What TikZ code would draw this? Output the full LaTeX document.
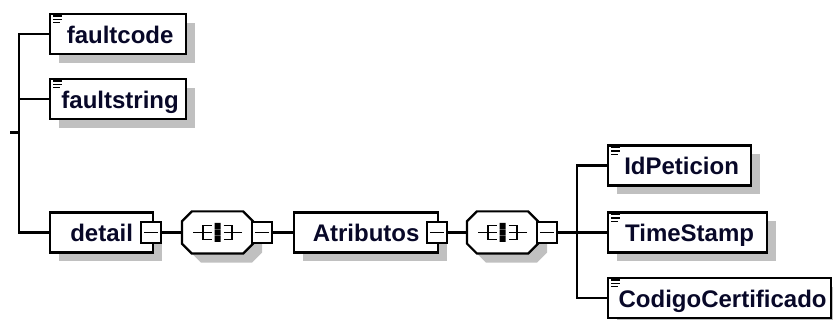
\documentclass[tikz,border=0pt]{standalone}
\usepackage{fontspec}
\setmainfont{Liberation Sans}
\usetikzlibrary{calc,shadows}
\definecolor{txt}{RGB}{8,8,40}
\definecolor{shade}{RGB}{192,192,192}
\newcommand\elemfont{\fontsize{24}{27}\selectfont\bfseries}
\begin{document}
\begin{tikzpicture}[x=1pt,y=-1pt,line width=2.2pt,
  shade9/.style={drop shadow={shadow xshift=9pt,shadow yshift=-9pt,fill=shade,opacity=1}},
  elem/.style={draw,fill=white,shade9,minimum height=40pt,inner sep=0pt,anchor=west,
    text height=19pt,text depth=0pt,font=\elemfont,text=txt},
  minus/.style={draw,fill=white,minimum width=20pt,minimum height=21pt,inner sep=0pt},
  seq/.style={minimum width=69pt,minimum height=40pt,inner sep=0pt}]
\useasboundingbox (0,0) rectangle (833,320);

\node[elem,minimum width=136pt] (faultcode) at (49,34) {\hspace{4pt}faultcode};
\node[elem,minimum width=136pt] (faultstring) at (49,99) {\hspace{4pt}faultstring};
\node[elem,minimum width=103pt] (detail) at (49,232.5) {detail\hspace{8pt}};

\node[seq] (seqA) at (217.5,232.5) {};

\node[elem,minimum width=144pt] (atrib) at (293,232.5) {Atributos};

\node[seq] (seqB) at (502.5,232.5) {};

\node[elem,minimum width=143pt] (idpet) at (607,165.5) {\hspace{4pt}IdPeticion};
\node[elem,minimum width=159pt] (timest) at (607,232.5) {\hspace{4pt}TimeStamp};
\node[elem,minimum width=223pt] (codigo) at (607,298) {\hspace{6pt}CodigoCertificado};

% sequence octagons
\foreach \s in {seqA,seqB}{
  \draw[fill=white,shade9] ([xshift=10pt]\s.north west) -- ([xshift=-10pt]\s.north east)
    -- ([yshift=-10pt]\s.north east) -- ([yshift=10pt]\s.south east)
    -- ([xshift=-10pt]\s.south east) -- ([xshift=10pt]\s.south west)
    -- ([yshift=10pt]\s.south west) -- ([yshift=-10pt]\s.north west) -- cycle;
  \draw[line width=1.5pt] ($(\s)+(-24.5,0)$) -- ($(\s)+(-6,0)$)
    ($(\s)+(-6,-7)$) -- ($(\s)+(-14.5,-7)$) -- ($(\s)+(-14.5,7)$) -- ($(\s)+(-6,7)$);
  \draw[line width=1.5pt] ($(\s)+(24.5,0)$) -- ($(\s)+(6,0)$)
    ($(\s)+(6,-7)$) -- ($(\s)+(14.5,-7)$) -- ($(\s)+(14.5,7)$) -- ($(\s)+(6,7)$);
  \fill ($(\s)+(-3,-9.5)$) rectangle ($(\s)+(3,-3.5)$)
        ($(\s)+(-3,-3)$) rectangle ($(\s)+(3,3)$)
        ($(\s)+(-3,3.5)$) rectangle ($(\s)+(3,9.5)$);
}

% minus boxes
\node[minus] (detailM) at (151,232.5) {};
\node[minus] (seqAM) at (262,232.5) {};
\node[minus] (atribM) at (437,232.5) {};
\node[minus] (seqBM) at (547,232.5) {};
\foreach \m in {detailM,seqAM,atribM,seqBM}
  \draw[line width=1.5pt] ([xshift=4pt]\m.west) -- ([xshift=-4pt]\m.east);

% element marks
\foreach \n in {faultcode,faultstring,idpet,timest,codigo}{
  \draw[line width=1.3pt] ($(\n.north west)+(4,3.2)$) -- ++(9,0)
    ($(\n.north west)+(4,6.5)$) -- ++(9,0)
    ($(\n.north west)+(4,9.8)$) -- ++(7,0);
}

\coordinate (root) at (10,132.5);
\coordinate (trunkA) at (19,132.5);
\coordinate (trunkB) at (577,232.5);

\draw (root) -- (trunkA);
\draw (faultcode.west) -| (trunkA) |- (detail.west);
\draw (faultstring.west) -- (faultstring.west -| trunkA);
\draw (detailM.east) -- (seqA.west);
\draw (seqAM.east) -- (atrib.west);
\draw (atribM.east) -- (seqB.west);
\draw (seqBM.east) -- (timest.west);
\draw (idpet.west) -| (trunkB) |- (codigo.west);
\end{tikzpicture}
\end{document}
